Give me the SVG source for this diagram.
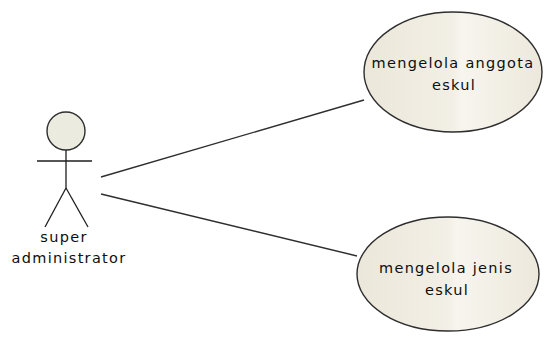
<svg xmlns="http://www.w3.org/2000/svg" width="546" height="339" viewBox="0 0 546 339">
  <style>
    .uc { stroke: #2e2e2e; stroke-width: 1.4; fill: url(#ucFill); }
    .edge { stroke: #2e2e2e; stroke-width: 1.4; fill: none; }
    .stick { stroke: #1e1e1e; stroke-width: 1.3; fill: none; }
    .lbl { font-family: "DejaVu Sans", "Liberation Sans", sans-serif; font-size: 14.5px; letter-spacing: 1.3px; fill: #0e0e0e; text-anchor: middle; }
  </style>
  <defs>
    <linearGradient id="ucFill" x1="0" y1="0" x2="1" y2="0">
      <stop offset="0" stop-color="#ebe7da"/>
      <stop offset="0.5" stop-color="#f2efe6"/>
      <stop offset="0.55" stop-color="#f7f5ee"/>
      <stop offset="1" stop-color="#ece8dc"/>
    </linearGradient>
  </defs>
  <rect width="546" height="339" fill="#ffffff"/>

  <g id="connectors">
    <line class="edge" x1="101" y1="177" x2="364" y2="100"/>
    <line class="edge" x1="101" y1="194" x2="357" y2="256"/>
  </g>

  <g id="actor-super-administrator">
    <circle cx="66" cy="131" r="19" fill="#ecebdf" stroke="#2e2e2e" stroke-width="1.4"/>
    <line class="stick" x1="66" y1="150" x2="66" y2="188"/>
    <line class="stick" x1="37" y1="161" x2="92" y2="161"/>
    <line class="stick" x1="66" y1="188" x2="45" y2="227"/>
    <line class="stick" x1="66" y1="188" x2="88" y2="227"/>
    <text class="lbl" x="64" y="242">super</text>
    <text class="lbl" x="69" y="263">administrator</text>
  </g>

  <g id="uc-mengelola-anggota">
    <ellipse class="uc" cx="453" cy="72" rx="89" ry="60"/>
    <text class="lbl" x="453" y="68">mengelola anggota</text>
    <text class="lbl" x="454" y="90">eskul</text>
  </g>

  <g id="uc-mengelola-jenis">
    <ellipse class="uc" cx="448" cy="274" rx="91" ry="57"/>
    <text class="lbl" x="446" y="273">mengelola jenis</text>
    <text class="lbl" x="447" y="295">eskul</text>
  </g>
</svg>
